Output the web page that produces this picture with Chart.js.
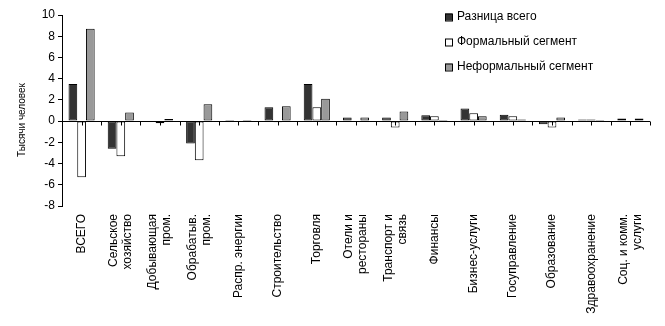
<!DOCTYPE html>
<html>
<head>
<meta charset="utf-8">
<script src="https://cdn.jsdelivr.net/npm/chart.js@4.4.0/dist/chart.umd.min.js"></script>
<style>
  html, body { margin: 0; padding: 0; background: #fff; }
</style>
</head>
<body>
<canvas id="myChart" width="665" height="326"></canvas>
<script>
// Categories (multi-line labels)
const categories = [
  ['ВСЕГО'],
  ['Сельское', 'хозяйство'],
  ['Добывающая', 'пром.'],
  ['Обрабатыв.', 'пром.'],
  ['Распр. энергии'],
  ['Строительство'],
  ['Торговля'],
  ['Отели и', 'рестораны'],
  ['Транспорт и', 'связь'],
  ['Финансы'],
  ['Бизнес-услуги'],
  ['Госуправление'],
  ['Образование'],
  ['Здравоохранение'],
  ['Соц. и комм.', 'услуги']
];

const seriesNames = ['Разница всего', 'Формальный сегмент', 'Неформальный сегмент'];

// thousands of people
const diffTotal = [3.5, -2.6, 0, -2.1, 0.1, 1.3, 3.5, 0.35, 0.35, 0.55, 1.2, 0.6, -0.3, 0.15, 0.25];
const formal    = [-5.3, -3.3, -0.2, -3.7, 0, -0.1, 1.3, 0, -0.6, 0.45, 0.75, 0.45, -0.6, 0.15, 0];
const informal  = [8.7, 0.8, 0.2, 1.6, 0.1, 1.4, 2.1, 0.35, 0.9, 0.1, 0.45, 0.15, 0.35, 0.1, 0.25];

const yMin = -8, yMax = 10, yStep = 2;
const yTitle = 'Тысячи человек';

const colors = ['#333333', '#ffffff', '#999999'];
const FONT = '"Liberation Sans", Arial, sans-serif';

// zero line with small ticks, x labels, axis title and legend
const decor = {
  id: 'decor',
  afterDatasetsDraw(chart) {
    const {ctx, chartArea, scales: {x, y}} = chart;
    const y0 = Math.round(y.getPixelForValue(0)) + 0.5;
    const half = (x.getPixelForValue(1) - x.getPixelForValue(0)) / 2;
    ctx.save();
    ctx.strokeStyle = '#000';
    ctx.lineWidth = 1;
    ctx.beginPath();
    ctx.moveTo(chartArea.left, y0);
    ctx.lineTo(chartArea.right, y0);
    for (let i = 0; i < categories.length; i++) {
      const c = x.getPixelForValue(i);
      [c, c + half].forEach(px => {
        const p = Math.round(px) + 0.5;
        ctx.moveTo(p, y0);
        ctx.lineTo(p, y0 + 4);
      });
    }
    ctx.stroke();
    ctx.restore();
  },
  afterDraw(chart) {
    const {ctx, chartArea, scales: {x}} = chart;
    ctx.save();
    ctx.fillStyle = '#000';

    // category labels, rotated
    ctx.font = '12px ' + FONT;
    ctx.textAlign = 'right';
    ctx.textBaseline = 'middle';
    const lh = 14;
    categories.forEach((lines, i) => {
      const cx = x.getPixelForValue(i);
      lines.forEach((t, j) => {
        ctx.save();
        ctx.translate(cx + (j - (lines.length - 1) / 2) * lh, chartArea.bottom + 8);
        ctx.rotate(-Math.PI / 2);
        ctx.fillText(t, 0, 0);
        ctx.restore();
      });
    });

    // y axis title
    ctx.font = '10px ' + FONT;
    ctx.textAlign = 'center';
    ctx.save();
    ctx.translate(22, 120);
    ctx.rotate(-Math.PI / 2);
    ctx.fillText(yTitle, 0, 0);
    ctx.restore();

    // legend
    ctx.font = '12px ' + FONT;
    ctx.textAlign = 'left';
    chart.data.datasets.forEach((ds, i) => {
      const ly = 17 + i * 25;
      ctx.fillStyle = ds.backgroundColor;
      ctx.fillRect(445, ly - 3.5, 7, 7);
      ctx.strokeStyle = '#000';
      ctx.lineWidth = 1;
      ctx.strokeRect(445.5, ly - 3, 7, 7);
      ctx.fillStyle = '#000';
      ctx.fillText(ds.label, 457, ly);
    });
    ctx.restore();
  }
};

const ctx = document.getElementById('myChart').getContext('2d');
const myChart = new Chart(ctx, {
  type: 'bar',
  data: {
    labels: categories,
    datasets: [diffTotal, formal, informal].map((d, i) => ({
      label: seriesNames[i],
      data: d,
      backgroundColor: colors[i],
      borderColor: '#000',
      borderWidth: 1,
      borderSkipped: false,
      barPercentage: 1.0,
      categoryPercentage: 0.667
    }))
  },
  options: {
    responsive: false,
    animation: false,
    layout: { padding: { top: 15, right: 15, left: 0, bottom: 0 } },
    plugins: {
      legend: { display: false },
      tooltip: { enabled: false }
    },
    scales: {
      x: {
        grid: { display: false },
        border: { display: false },
        ticks: { display: false },
        afterFit(scale) { scale.height = 120; }
      },
      y: {
        min: yMin,
        max: yMax,
        ticks: {
          stepSize: yStep,
          color: '#000',
          padding: 3,
          font: { family: FONT, size: 12 }
        },
        grid: { drawOnChartArea: false, tickLength: 4, color: '#000' },
        border: { display: true, color: '#000' },
        afterFit(scale) { scale.width = 62; }
      }
    }
  },
  plugins: [decor]
});
</script>
</body>
</html>
